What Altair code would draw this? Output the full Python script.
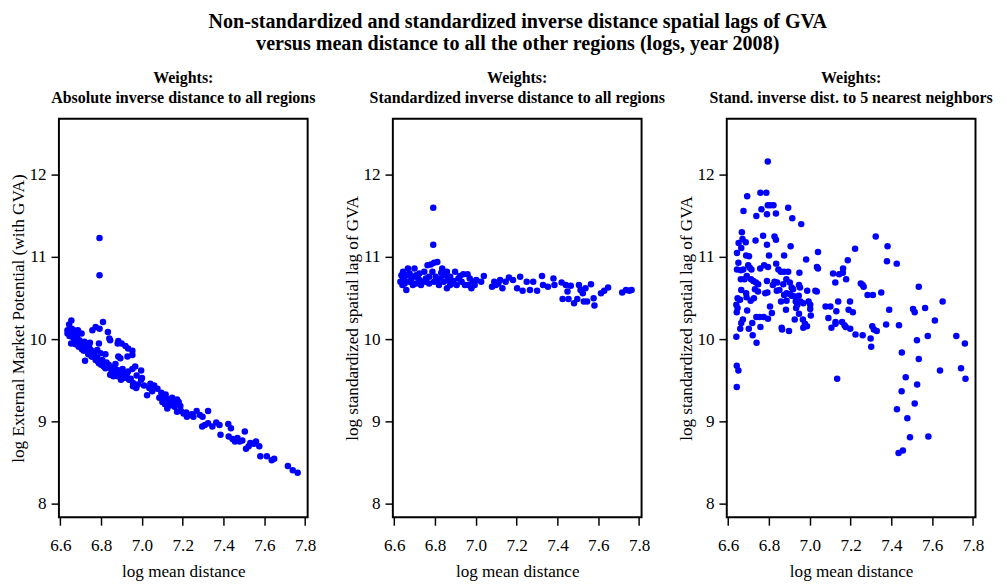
import altair as alt
import pandas as pd

# ---------------- data ----------------
p1_x = [6.792, 6.792,
        6.654, 6.643, 6.656, 6.635, 6.635, 6.645, 6.666, 6.677, 6.686, 6.704, 6.658, 6.669,
        6.653, 6.674, 6.693, 6.701, 6.718, 6.733, 6.741, 6.715, 6.749, 6.765, 6.721, 6.757,
        6.773, 6.789, 6.757, 6.773, 6.792, 6.809, 6.833, 6.840, 6.844, 6.781, 6.797, 6.821,
        6.805, 6.821, 6.837, 6.849, 6.868, 6.884, 6.881, 6.900, 6.919, 6.932, 6.953, 6.953,
        6.884, 6.894, 6.929, 6.892, 6.908, 6.881, 6.897, 6.937, 6.956, 6.953, 6.967, 6.996,
        7.000, 6.972, 6.956, 6.980, 7.025, 7.041, 7.036, 7.076, 7.095, 7.102, 7.116, 7.100,
        7.113, 7.124, 7.132, 7.148, 7.159, 7.172, 7.180, 7.188, 7.172, 7.191, 7.204, 7.217,
        7.236, 7.220, 7.252, 7.268, 7.284, 7.297, 7.324, 7.295, 7.308, 7.324, 7.345, 7.364,
        7.380, 7.385, 7.423, 7.436, 7.425, 7.444, 7.456, 7.468, 7.479, 7.492, 7.504, 7.510,
        7.523, 7.531, 7.548, 7.559, 7.575, 7.580, 7.612, 7.636, 7.648, 7.715, 7.739, 7.763,
        6.844, 6.860, 6.916, 6.932, 6.974, 6.996, 6.789, 6.813, 6.690, 6.706, 6.737, 6.753,
        6.781, 6.805, 6.860, 6.875, 6.905, 6.925, 6.945, 6.870, 6.728, 6.760, 6.745, 7.050,
        7.060, 7.085, 7.140, 7.160, 6.648, 6.662, 6.682, 6.697, 6.712, 6.727, 6.742, 6.768,
        6.785, 6.800, 6.826, 6.852, 6.880, 6.912, 7.010, 7.120, 7.150, 7.245]
p1_y = [11.23, 10.78,
        10.23, 10.18, 10.13, 10.11, 10.07, 10.04, 10.11, 10.08, 10.11, 10.07, 10.03, 9.99,
        9.95, 9.94, 9.99, 9.95, 9.97, 9.95, 9.91, 9.86, 9.87, 9.85, 9.74, 9.79,
        9.75, 9.95, 10.11, 10.15, 10.13, 10.21, 10.09, 10.01, 9.99, 9.87, 9.83, 9.82,
        9.71, 9.65, 9.69, 9.64, 9.60, 9.98, 9.95, 9.95, 9.92, 9.89, 9.86, 9.81,
        9.79, 9.77, 9.79, 9.62, 9.58, 9.55, 9.51, 9.51, 9.47, 9.64, 9.67, 9.62,
        9.53, 9.41, 9.43, 9.45, 9.32, 9.46, 9.41, 9.40, 9.35, 9.31, 9.33, 9.24,
        9.21, 9.16, 9.25, 9.29, 9.24, 9.27, 9.24, 9.19, 9.12, 9.13, 9.10, 9.11,
        9.08, 9.06, 9.06, 9.13, 9.08, 9.06, 9.13, 8.94, 8.96, 8.98, 8.94, 8.99,
        8.96, 8.84, 8.97, 8.92, 8.82, 8.79, 8.76, 8.80, 8.76, 8.77, 8.88, 8.67,
        8.70, 8.74, 8.73, 8.76, 8.70, 8.58, 8.58, 8.53, 8.55, 8.46, 8.41, 8.38,
        9.57, 9.55, 9.55, 9.61, 9.56, 9.51, 9.71, 9.67, 9.91, 9.88, 9.82, 9.79,
        9.77, 9.75, 9.66, 9.63, 9.64, 9.57, 9.52, 9.70, 9.90, 9.82, 9.96, 9.37,
        9.44, 9.29, 9.20, 9.18, 10.07, 10.06, 10.02, 9.96, 9.92, 9.88, 9.84, 9.80,
        9.73, 9.69, 9.72, 9.62, 9.58, 9.53, 9.44, 9.28, 9.22, 9.09]

p2_x = [6.791, 6.791, 6.811, 6.795, 6.779, 6.763, 6.835, 6.830, 6.699, 6.635, 6.643, 6.630,
        6.640, 6.659, 6.659, 6.675, 6.691, 6.675, 6.707, 6.723, 6.739, 6.747, 6.771, 6.787,
        6.795, 6.811, 6.827, 6.851, 6.863, 6.858, 6.874, 6.898, 6.914, 6.882, 6.906, 6.930,
        6.938, 6.959, 6.970, 6.946, 6.978, 6.994, 7.002, 7.026, 7.039, 7.079, 7.098, 7.119,
        7.130, 7.146, 7.162, 7.182, 7.202, 7.217, 7.229, 7.249, 7.265, 7.281, 7.300, 7.324,
        7.329, 7.353, 7.380, 7.385, 7.420, 7.441, 7.449, 7.465, 7.425, 7.454, 7.481, 7.497,
        7.505, 7.513, 7.524, 7.537, 7.529, 7.545, 7.564, 7.577, 7.581, 7.613, 7.629, 7.648,
        7.717, 7.736, 7.752, 7.763, 6.643, 6.667, 6.707, 6.723, 6.755, 6.771, 6.858, 6.874,
        6.819, 6.843, 6.691, 6.731, 6.651, 6.962, 6.986, 6.650, 6.683, 6.715, 6.755, 6.803,
        6.890, 6.922, 7.090, 7.110]
p2_y = [11.60, 11.15, 10.94, 10.93, 10.91, 10.90, 10.86, 10.81, 10.86, 10.78, 10.74, 10.70,
        10.66, 10.60, 10.78, 10.80, 10.76, 10.70, 10.68, 10.72, 10.70, 10.82, 10.76, 10.82,
        10.70, 10.72, 10.74, 10.78, 10.72, 10.62, 10.76, 10.82, 10.74, 10.68, 10.66, 10.70,
        10.79, 10.79, 10.74, 10.66, 10.62, 10.66, 10.72, 10.70, 10.77, 10.64, 10.66, 10.72,
        10.62, 10.70, 10.75, 10.72, 10.62, 10.76, 10.59, 10.70, 10.60, 10.70, 10.59, 10.77,
        10.66, 10.64, 10.74, 10.66, 10.69, 10.66, 10.58, 10.65, 10.49, 10.49, 10.44, 10.49,
        10.66, 10.60, 10.56, 10.62, 10.46, 10.46, 10.67, 10.50, 10.41, 10.56, 10.59, 10.63,
        10.57, 10.60, 10.59, 10.60, 10.82, 10.86, 10.78, 10.80, 10.74, 10.68, 10.82, 10.66,
        10.66, 10.70, 10.66, 10.66, 10.68, 10.66, 10.70, 10.72, 10.73, 10.75, 10.70, 10.76,
        10.71, 10.77, 10.70, 10.68]

p3_x = [6.794, 6.693, 6.758, 6.787, 6.675, 6.738, 6.763, 6.794, 6.806, 6.822, 6.790, 6.834,
        6.894, 6.914, 6.958, 6.667, 6.651, 6.670, 6.686, 6.664, 6.734, 6.771, 6.790, 6.827,
        6.834, 6.906, 6.643, 6.688, 6.702, 6.800, 6.874, 7.040, 6.982, 6.650, 6.643, 6.662,
        6.674, 6.698, 6.706, 6.714, 6.757, 6.776, 6.795, 6.835, 6.846, 6.858, 6.874, 6.894,
        6.949, 7.035, 7.040, 7.114, 7.144, 7.163, 7.162, 7.186, 7.222, 7.323, 7.381, 7.378,
        7.426, 6.662, 6.680, 6.691, 6.712, 6.723, 6.736, 6.747, 6.790, 6.819, 6.827, 6.840,
        6.870, 6.885, 6.902, 6.911, 6.918, 6.947, 6.952, 7.125, 7.178, 7.250, 7.259, 7.264,
        6.664, 6.688, 6.731, 6.746, 6.781, 6.792, 6.838, 6.851, 6.874, 6.886, 6.902, 6.911,
        6.926, 6.946, 6.987, 7.027, 7.034, 7.283, 7.309, 7.350, 7.534, 6.646, 6.658, 6.690,
        6.710, 6.726, 6.805, 6.859, 6.886, 6.931, 6.939, 6.954, 6.968, 6.994, 7.002, 7.139,
        7.197, 6.640, 6.646, 6.642, 6.693, 6.883, 6.933, 6.947, 7.002, 7.077, 7.101, 7.130,
        7.190, 7.211, 7.389, 7.506, 7.514, 7.565, 7.651, 6.738, 6.754, 6.774, 6.814, 6.795,
        7.005, 6.926, 6.672, 6.664, 6.718, 6.758, 6.862, 6.864, 6.898, 6.966, 6.976, 6.968,
        6.986, 7.091, 7.106, 7.126, 7.126, 7.158, 7.170, 7.176, 7.198, 7.224, 7.259, 7.306,
        7.314, 7.328, 7.374, 7.437, 7.613, 6.701, 6.659, 6.720, 6.640, 6.739, 7.298, 7.301,
        7.525, 7.578, 7.718, 7.760, 7.451, 6.642, 6.650, 6.642, 7.134, 7.534, 7.470, 7.526,
        7.450, 7.638, 7.741, 7.763, 7.427, 7.514, 7.478, 7.491, 7.581, 7.435, 7.456]
p3_y = [12.16, 11.74, 11.78, 11.78, 11.56, 11.50, 11.58, 11.63, 11.63, 11.63, 11.52, 11.53,
        11.60, 11.47, 11.40, 11.30, 11.17, 11.22, 11.18, 11.11, 11.20, 11.26, 11.15, 11.25,
        11.21, 11.13, 11.05, 11.02, 11.01, 11.02, 11.02, 11.06, 10.97, 10.93, 10.85, 10.84,
        10.85, 10.90, 10.87, 10.85, 10.86, 10.90, 10.88, 10.92, 10.85, 10.82, 10.82, 10.82,
        10.81, 10.88, 10.86, 10.80, 10.79, 10.86, 10.81, 10.96, 11.10, 11.25, 11.13, 10.95,
        10.92, 10.73, 10.73, 10.77, 10.73, 10.71, 10.69, 10.67, 10.71, 10.66, 10.70, 10.69,
        10.67, 10.73, 10.69, 10.63, 10.61, 10.66, 10.63, 10.69, 10.73, 10.68, 10.66, 10.64,
        10.60, 10.56, 10.61, 10.58, 10.56, 10.57, 10.59, 10.60, 10.54, 10.56, 10.55, 10.53,
        10.52, 10.53, 10.59, 10.59, 10.58, 10.54, 10.54, 10.57, 10.64, 10.50, 10.48, 10.51,
        10.47, 10.50, 10.40, 10.46, 10.47, 10.46, 10.42, 10.46, 10.44, 10.46, 10.42, 10.46,
        10.46, 10.42, 10.38, 10.33, 10.35, 10.36, 10.38, 10.31, 10.37, 10.40, 10.40, 10.34,
        10.36, 10.33, 10.36, 10.37, 10.33, 10.38, 10.46, 10.27, 10.27, 10.27, 10.32, 10.25,
        10.29, 10.24, 10.24, 10.20, 10.20, 10.15, 10.14, 10.12, 10.10, 10.24, 10.19, 10.14,
        10.16, 10.26, 10.14, 10.19, 10.21, 10.21, 10.17, 10.15, 10.13, 10.06, 10.05, 10.16,
        10.12, 10.10, 10.18, 10.17, 10.23, 10.13, 10.13, 10.05, 10.03, 9.96, 10.01, 9.91,
        9.99, 10.04, 10.04, 9.95, 9.84, 9.68, 9.62, 9.42, 9.52, 9.76, 9.54, 9.45,
        9.37, 9.62, 9.65, 9.52, 9.15, 9.22, 9.04, 8.81, 8.82, 8.62, 8.65]

main_title = ["Non-standardized and standardized inverse distance spatial lags of GVA",
              "versus mean distance to all the other regions (logs, year 2008)"]
sub_titles = ["Absolute inverse distance to all regions",
              "Standardized inverse distance to all regions",
              "Stand. inverse dist. to 5 nearest neighbors"]
y_titles = ["log External Market Potential (with GVA)",
            "log standardized spatial lag of GVA",
            "log standardized spatial lag of GVA"]
x_title = "log mean distance"
x_ticks = [6.6, 6.8, 7.0, 7.2, 7.4, 7.6, 7.8]
y_ticks = [8, 9, 10, 11, 12]

FONT = "Liberation Serif"
W, H = 254, 407


def panel(xs, ys, sub, ytitle):
    df = pd.DataFrame({"x": xs, "y": ys})
    return (
        alt.Chart(df)
        .mark_circle(size=44, color="#0000FF", opacity=1)
        .encode(
            x=alt.X("x:Q",
                    scale=alt.Scale(domain=[6.593, 7.812], nice=False, zero=False),
                    axis=alt.Axis(values=x_ticks, format=".1f", title=x_title,
                                  titlePadding=9, labelPadding=12)),
            y=alt.Y("y:Q",
                    scale=alt.Scale(domain=[7.837, 12.68], nice=False, zero=False),
                    axis=alt.Axis(values=y_ticks, format="d", title=ytitle,
                                  titlePadding=2, labelPadding=5)),
        )
        .properties(
            width=W, height=H,
            title=alt.TitleParams(["Weights:", sub], font=FONT, fontSize=16.3,
                                  fontWeight="bold", lineHeight=20, offset=13,
                                  anchor="middle", color="black"),
        )
    )


charts = [panel(p1_x, p1_y, sub_titles[0], y_titles[0]),
          panel(p2_x, p2_y, sub_titles[1], y_titles[1]),
          panel(p3_x, p3_y, sub_titles[2], y_titles[2])]

chart = (
    alt.hconcat(*charts, spacing=87, bounds="flush")
    .properties(
        title=alt.TitleParams(main_title, font=FONT, fontSize=20.5, fontWeight="bold",
                              lineHeight=23, anchor="middle", offset=15, dx=17,
                              color="black"),
        padding={"left": 0, "top": -2, "right": 5, "bottom": 0},
    )
    .configure_view(stroke="black", strokeWidth=2)
    .configure_axis(
        grid=False, domain=False, ticks=True, tickColor="black", tickWidth=1.5,
        tickSize=8, labelFont=FONT, labelFontSize=17.5, labelColor="black",
        titleFont=FONT, titleFontSize=17.5, titleFontWeight="normal",
        titleColor="black",
    )
)

chart.save("out.html", embed_options={"renderer": "svg", "actions": False})
